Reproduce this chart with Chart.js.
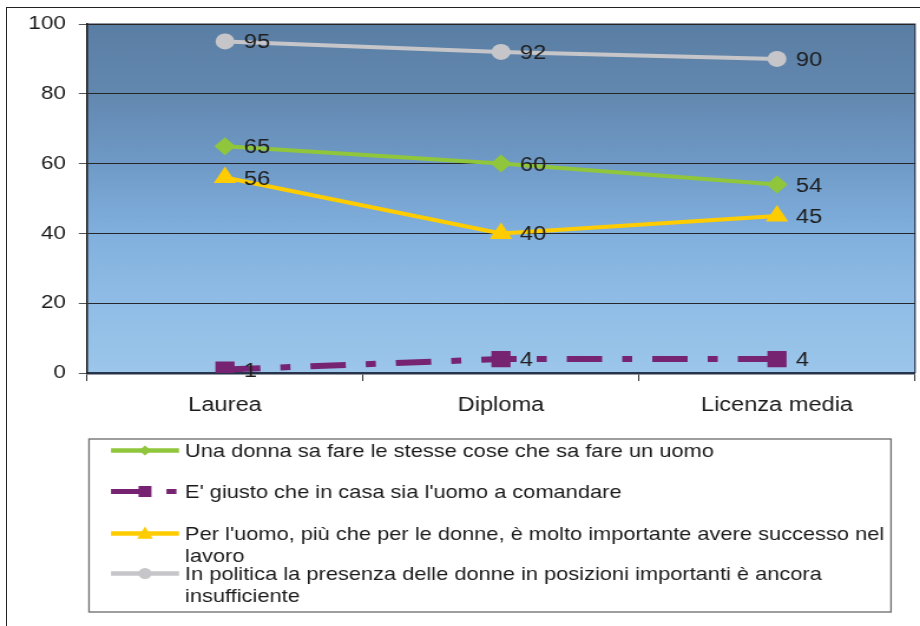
<!DOCTYPE html>
<html><head><meta charset="utf-8">
<script src="https://cdn.jsdelivr.net/npm/chart.js@4/dist/chart.umd.min.js"></script>
<style>
html,body{margin:0;padding:0;background:#fff;overflow:hidden;width:920px;height:626px;}
#frame{position:absolute;left:6px;top:7px;width:1000px;height:1000px;border:1.5px solid #222;box-sizing:border-box;}
#c{position:absolute;left:0;top:0;transform-origin:0 0;}
</style></head><body>
<div id="frame"></div>
<canvas id="c" width="780" height="626"></canvas>
<script>
// ---- data ----
const categories = ['Laurea', 'Diploma', 'Licenza media'];
const seriesNames = [
  'Una donna sa fare le stesse cose che sa fare un uomo',
  "E' giusto che in casa sia l'uomo a comandare",
  "Per l'uomo, più che per le donne, è molto importante avere successo nel lavoro",
  'In politica la presenza delle donne in posizioni importanti è ancora insufficiente'
];
const donnaStesseCose = [65, 60, 54];
const uomoComandare = [1, 4, 4];
const uomoSuccesso = [56, 40, 45];
const politicaInsufficiente = [95, 92, 90];
const yTicks = [0, 20, 40, 60, 80, 100];

// ---- layout (the original picture is horizontally stretched) ----
const S = 920 / 780;
const canvas = document.getElementById('c');
canvas.style.transform = 'scaleX(' + S + ')';
const FONT = '"Liberation Sans", Arial, sans-serif';

const bgPlugin = {
  id: 'plotBg',
  beforeDraw(chart) {
    const a = chart.chartArea, ctx = chart.ctx;
    ctx.save();
    const g = ctx.createLinearGradient(0, a.top, 0, a.bottom);
    g.addColorStop(0, '#5a7ea3');
    g.addColorStop(0.2, '#6388b0');
    g.addColorStop(0.4, '#6f9ac7');
    g.addColorStop(0.6, '#81b0de');
    g.addColorStop(0.8, '#90bde6');
    g.addColorStop(1, '#9cc6ea');
    ctx.fillStyle = g;
    ctx.fillRect(a.left, a.top, a.right - a.left, a.bottom - a.top);
    ctx.strokeStyle = '#26304a';
    ctx.lineWidth = 1.2;
    ctx.beginPath();
    ctx.moveTo(a.left, a.top); ctx.lineTo(a.right, a.top); ctx.lineTo(a.right, a.bottom);
    ctx.stroke();
    ctx.restore();
  }
};

const labelPlugin = {
  id: 'valueLabels',
  afterDatasetsDraw(chart) {
    const ctx = chart.ctx;
    ctx.save();
    ctx.font = '20px ' + FONT;
    ctx.fillStyle = '#1e1e1e';
    ctx.textAlign = 'left';
    ctx.textBaseline = 'middle';
    chart.data.datasets.forEach((ds, i) => {
      chart.getDatasetMeta(i).data.forEach((p, j) => {
        ctx.fillText(String(ds.data[j]), p.x + 16, p.y + 1.5);
      });
    });
    ctx.restore();
  }
};

function wrapText(ctx, text, maxW) {
  const words = text.split(' ');
  const lines = [];
  let cur = '';
  words.forEach(w => {
    const t = cur ? cur + ' ' + w : w;
    if (ctx.measureText(t).width > maxW && cur) { lines.push(cur); cur = w; }
    else cur = t;
  });
  if (cur) lines.push(cur);
  return lines;
}

function marker(ctx, style, x, y, r, color) {
  ctx.fillStyle = color;
  ctx.beginPath();
  if (style === 'circle') ctx.arc(x, y, r, 0, Math.PI * 2);
  else if (style === 'rectRot') { ctx.moveTo(x - r, y); ctx.lineTo(x, y - r); ctx.lineTo(x + r, y); ctx.lineTo(x, y + r); ctx.closePath(); }
  else if (style === 'rect') ctx.rect(x - r, y - r, 2 * r, 2 * r);
  else if (style === 'triangle') { ctx.moveTo(x, y - r); ctx.lineTo(x + r * 0.95, y + r * 0.75); ctx.lineTo(x - r * 0.95, y + r * 0.75); ctx.closePath(); }
  ctx.fill();
}

const legendPlugin = {
  id: 'boxLegend',
  afterDraw(chart) {
    const ctx = chart.ctx;
    ctx.save();
    const L = 89 / S, R = 891 / S, T = 439, B = 612;
    ctx.strokeStyle = '#6a6a6a';
    ctx.lineWidth = 1.3;
    ctx.strokeRect(L, T, R - L, B - T);
    ctx.font = '18.5px ' + FONT;
    ctx.textBaseline = 'alphabetic';
    ctx.textAlign = 'left';
    const textX = 185 / S, x0 = 111 / S, x1 = 179 / S, maxW = 600, lineH = 21.5;
    const baselines = [457, 498, 540, 580];
    const legendMarkerSize = [5, 5.5, 7, 5.5];
    chart.data.datasets.forEach((ds, i) => {
      const base = baselines[i];
      ctx.fillStyle = '#1a1a1a';
      wrapText(ctx, ds.label, maxW).forEach((ln, k) => ctx.fillText(ln, textX, base + k * lineH));
      const my = base - 6.5;
      ctx.save();
      ctx.strokeStyle = ds.borderColor;
      ctx.lineWidth = i === 1 ? 5 : 4.5;
      ctx.setLineDash(ds.borderDash || []);
      ctx.beginPath(); ctx.moveTo(x0, my); ctx.lineTo(x1, my); ctx.stroke();
      ctx.restore();
      marker(ctx, ds.pointStyle, (x0 + x1) / 2, my, legendMarkerSize[i], ds.borderColor);
    });
    ctx.restore();
  }
};

const colors = ['#8fc63c', '#762472', '#ffcc00', '#c6c6ca'];

new Chart(canvas, {
  type: 'line',
  data: {
    labels: categories,
    datasets: [
      { label: seriesNames[0], data: donnaStesseCose, borderColor: colors[0], backgroundColor: colors[0],
        borderWidth: 4, pointStyle: 'rectRot', pointRadius: 9, pointBorderWidth: 0 },
      { label: seriesNames[1], data: uomoComandare, borderColor: colors[1], backgroundColor: colors[1],
        borderWidth: 6, borderDash: [30, 17, 8.5, 17], borderCapStyle: 'butt',
        pointStyle: 'rect', pointRadius: 11.5, pointBorderWidth: 0 },
      { label: seriesNames[2], data: uomoSuccesso, borderColor: colors[2], backgroundColor: colors[2],
        borderWidth: 4, pointStyle: 'triangle', pointRadius: 11, pointBorderWidth: 0 },
      { label: seriesNames[3], data: politicaInsufficiente, borderColor: colors[3], backgroundColor: colors[3],
        borderWidth: 4, pointStyle: 'circle', pointRadius: 8, pointBorderWidth: 0 }
    ]
  },
  options: {
    responsive: false,
    animation: false,
    devicePixelRatio: 1,
    layout: { autoPadding: false, padding: { left: 0, top: 24, right: 780 - 915 / S, bottom: 196 } },
    elements: { line: { tension: 0 } },
    plugins: { legend: { display: false }, tooltip: { enabled: false } },
    scales: {
      x: {
        offset: true,
        grid: { display: true, drawOnChartArea: false, drawTicks: true, tickLength: 8, color: '#333', offset: true },
        border: { display: true, color: '#28324a', width: 2.5 },
        ticks: { font: { size: 20, family: FONT }, color: '#1a1a1a', padding: 12, maxRotation: 0 },
        afterFit(s) { s.height = 57; s.paddingLeft = 0; s.paddingRight = 0; }
      },
      y: {
        min: yTicks[0], max: yTicks[yTicks.length - 1],
        afterBuildTicks(s) { s.ticks = yTicks.map(v => ({ value: v })); },
        grid: { color: '#262626', lineWidth: 1, drawTicks: true, tickLength: 7, tickColor: '#555' },
        border: { display: true, color: '#1a1a1a', width: 1.5 },
        ticks: { font: { size: 19, family: FONT }, color: '#1a1a1a', padding: 11 },
        afterFit(s) { s.width = 87 / S; }
      }
    }
  },
  plugins: [bgPlugin, labelPlugin, legendPlugin]
});
</script>
</body></html>
